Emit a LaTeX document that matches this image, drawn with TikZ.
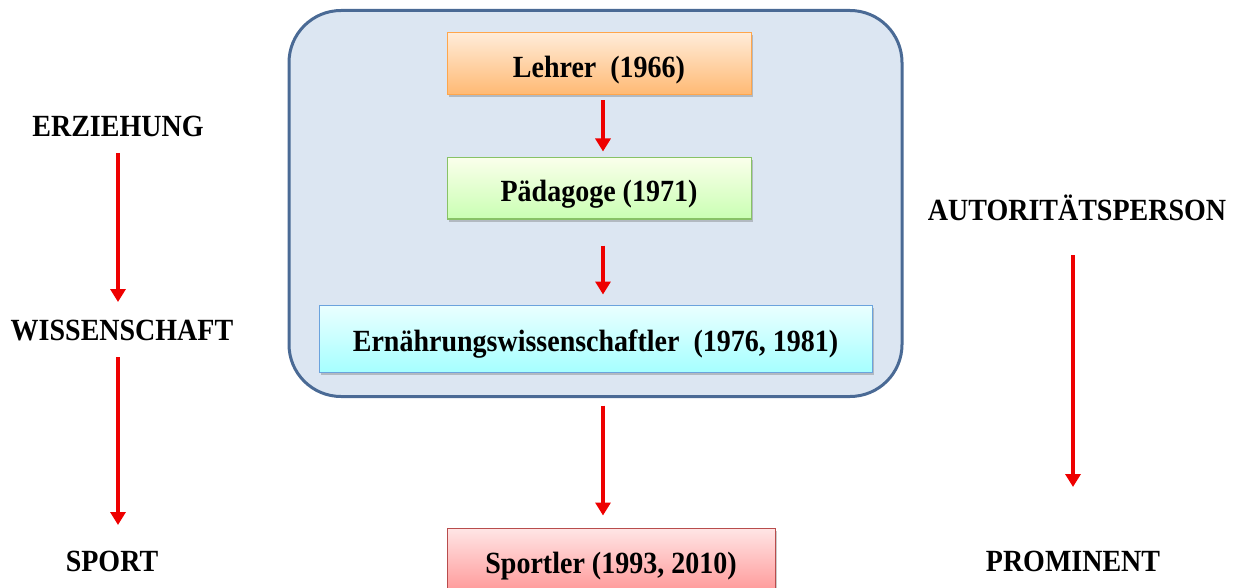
\documentclass[tikz,border=0pt]{standalone}
\usepackage{fontspec}
\setmainfont{Liberation Serif}
\usetikzlibrary{arrows.meta,shadows}
\definecolor{outerfill}{HTML}{DCE6F2}
\definecolor{outerdraw}{HTML}{4A6A95}
\definecolor{arrowred}{HTML}{EE0000}
\newcommand{\tallt}[1]{\scalebox{1}[1.1]{#1}}
\tikzset{
  lbl/.style={inner sep=0pt, font=\fontsize{28}{32}\selectfont\bfseries, text=black},
  boxnode/.style={lbl, draw, line width=1pt, text height=28pt, text depth=1.2pt,
     drop shadow={shadow xshift=1.5pt, shadow yshift=-2.5pt, opacity=0.35, fill=black!60}},
  orangebox/.style={boxnode, draw=orange!70!white, top color=orange!15!white, bottom color=orange!55!white},
  greenbox/.style={boxnode, draw=green!50!lime!60!black!60!white, top color=lime!8!white, bottom color=lime!40!green!30!white},
  cyanbox/.style={boxnode, draw=cyan!60!blue!60!white, top color=cyan!8!white, bottom color=cyan!35!white},
  redbox/.style={boxnode, draw=red!60!black!70!white, top color=red!10!white, bottom color=red!40!white},
  redarrow/.style={draw=arrowred, line width=4pt, -{Triangle[width=15pt,length=13pt]}},
}
\begin{document}
\begin{tikzpicture}[x=1pt,y=-1pt]
\useasboundingbox (0,0) rectangle (1239,588);
\clip (0,0) rectangle (1239,588);
% outer group
\node[draw=outerdraw, line width=3pt, fill=outerfill, rounded corners=52pt,
      minimum width=613pt, minimum height=386pt, inner sep=0pt] (group) at (595.5,203.5) {};
% boxes
\node[orangebox, minimum width=304pt, minimum height=62pt] (lehrer) at (599,64) {\tallt{Lehrer\ \ (1966)}};
\node[greenbox, minimum width=304pt, minimum height=61pt] (paed) at (599,188.5) {\tallt{Pädagoge (1971)}};
\node[cyanbox, minimum width=553pt, minimum height=67pt] (ern) at (595.5,338.5) {\tallt{Ernährungswissenschaftler\ \ (1976, 1981)}};
\node[redbox, minimum width=328pt, minimum height=64pt] (sportler) at (611,560) {\tallt{Sportler (1993, 2010)}};
% center arrows
\draw[redarrow] ([xshift=4pt,yshift=-5pt]lehrer.south) -- ([xshift=4pt,yshift=6pt]paed.north);
\draw[redarrow] ([xshift=4pt,yshift=-26pt]paed.south) -- ([xshift=4pt,yshift=10pt]paed.south |- ern.north);
\draw[redarrow] ([xshift=7.5pt,yshift=-33pt]ern.south) -- ([xshift=-8pt,yshift=12pt]sportler.north);
% left column
\node[lbl] (erz) at (118,126) {\tallt{ERZIEHUNG}};
\node[lbl] (wiss) at (122,331) {\tallt{WISSENSCHAFT}};
\node[lbl] (sport) at (112,561) {\tallt{SPORT}};
\draw[redarrow] ([yshift=-27pt]erz.center) -- ([yshift=29pt]erz.center |- wiss.center);
\draw[redarrow] ([yshift=-26pt]erz.center |- wiss.center) -- ([yshift=36pt]erz.center |- sport.center);
% right column
\node[lbl] (aut) at (1077,208) {\tallt{AUTORITÄTSPERSON}};
\node[lbl] (prom) at (1073,561) {\tallt{PROMINENT}};
\draw[redarrow] ([yshift=-47pt]prom.center |- aut.center) -- ([yshift=74pt]prom.center);
\end{tikzpicture}
\end{document}
